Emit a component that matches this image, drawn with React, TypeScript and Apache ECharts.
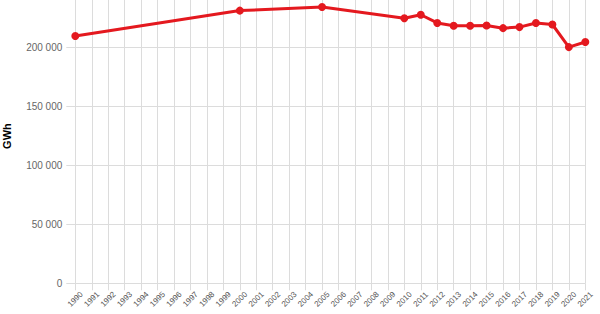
import React, { useEffect, useRef } from "react";
import * as echarts from "echarts";

const years: string[] = [
  "1990","1991","1992","1993","1994","1995","1996","1997","1998","1999",
  "2000","2001","2002","2003","2004","2005","2006","2007","2008","2009",
  "2010","2011","2012","2013","2014","2015","2016","2017","2018","2019",
  "2020","2021",
];

const gwh: (number | null)[] = [
  210000, null, null, null, null, null, null, null, null, null,
  231500, null, null, null, null, 234500, null, null, null, null,
  225000, 228000, 221000, 218600, 218600, 218900, 216600, 217500, 220900, 219700,
  200500, 204800,
];

const yMax = 250000;
const yInterval = 50000;
const yTitle = "GWh";

const FONT = '"Liberation Sans", Arial, Helvetica, sans-serif';
const GRID = "#dcdcdc";
const RED = "#e4191f";

export default function App() {
  const ref = useRef<HTMLDivElement>(null);
  useEffect(() => {
    if (!ref.current) return;
    const chart = echarts.init(ref.current, undefined, { renderer: "svg" });
    chart.setOption({
      animation: false,
      grid: {
        left: 75.3,
        right: 14.7,
        top: -11.2,
        bottom: 30.7,
        containLabel: false,
        outerBoundsMode: "none",
      },
      xAxis: {
        type: "category",
        data: years,
        boundaryGap: false,
        axisLine: { show: false },
        axisTick: { show: true, interval: 0, length: 7, lineStyle: { color: GRID } },
        splitLine: { show: true, interval: 0, lineStyle: { color: GRID, width: 1 } },
        axisLabel: {
          interval: 0,
          rotate: 45,
          align: "center",
          verticalAlign: "middle",
          margin: 16,
          fontSize: 8,
          color: "#555",
          fontFamily: FONT,
        },
      },
      yAxis: {
        type: "value",
        min: 0,
        max: yMax,
        interval: yInterval,
        name: yTitle,
        nameLocation: "middle",
        nameGap: 63,
        nameRotate: 90,
        nameTextStyle: { fontSize: 11, fontWeight: "bold", color: "#000", fontFamily: FONT },
        axisLine: { show: false },
        axisTick: { show: true, length: 9, lineStyle: { color: GRID } },
        splitLine: { show: true, lineStyle: { color: GRID, width: 1 } },
        axisLabel: {
          margin: 13,
          fontSize: 10,
          color: "#666",
          fontFamily: FONT,
          showMaxLabel: false,
          formatter: (v: number) => String(v).replace(/\B(?=(\d{3})+(?!\d))/g, " "),
        },
      },
      series: [
        {
          type: "line",
          data: gwh,
          connectNulls: true,
          clip: false,
          symbol: "circle",
          symbolSize: 8,
          showAllSymbol: true,
          lineStyle: { color: RED, width: 3 },
          itemStyle: { color: RED },
        },
      ],
    });
    return () => chart.dispose();
  }, []);
  return (
    <div
      ref={ref}
      style={{ position: "absolute", left: 0, top: 0, width: 600, height: 314 }}
    />
  );
}
